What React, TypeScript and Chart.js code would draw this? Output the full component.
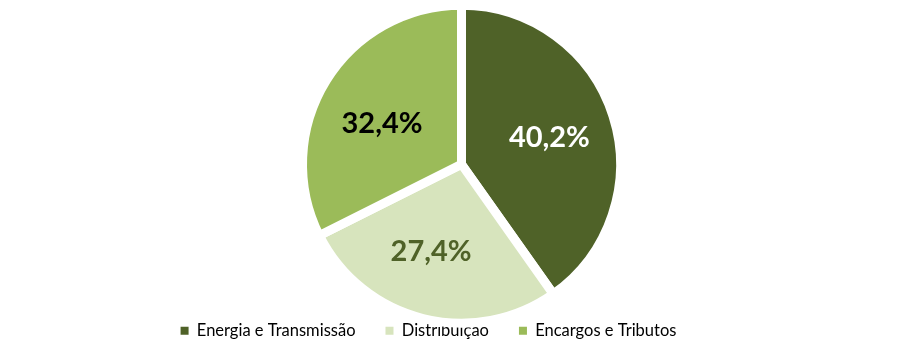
import React, { useEffect, useRef } from "react";
import { Chart, registerables } from "chart.js";

Chart.register(...registerables);

const categories = ["Energia e Transmissão", "Distribuição", "Encargos e Tributos"];
const values = [40.2, 27.4, 32.4];
const valueLabels = ["40,2%", "27,4%", "32,4%"];
const colors = ["#4F6228", "#D7E4BD", "#9BBB59"];
const labelColors = ["#FFFFFF", "#4F6228", "#000000"];
const labelNudge = [[0, 1], [-8, -2], [-1, 8]];

const sliceLabels = {
  id: "sliceLabels",
  afterDatasetsDraw(chart: any) {
    const ctx = chart.ctx;
    const meta = chart.getDatasetMeta(0);
    ctx.save();
    ctx.font = "bold 29px Lato";
    ctx.textAlign = "center";
    ctx.textBaseline = "middle";
    meta.data.forEach((arc: any, i: number) => {
      const p = arc.getProps(["x", "y", "startAngle", "endAngle", "outerRadius"], true);
      const mid = (p.startAngle + p.endAngle) / 2;
      const r = p.outerRadius * 0.58;
      ctx.fillStyle = labelColors[i];
      ctx.fillText(
        valueLabels[i],
        p.x + Math.cos(mid) * r + labelNudge[i][0],
        p.y + Math.sin(mid) * r + labelNudge[i][1]
      );
    });
    ctx.restore();
  },
};

const legendShift = {
  id: "legendShift",
  afterLayout(chart: any) {
    const lg = chart.legend;
    if (lg) {
      lg.left -= 33;
      lg.right -= 33;
    }
  },
};

export default function App() {
  const ref = useRef<HTMLCanvasElement>(null);
  useEffect(() => {
    document.body.style.margin = "0";
    const chart = new Chart(ref.current!, {
      type: "pie",
      data: {
        labels: categories,
        datasets: [
          {
            data: values,
            backgroundColor: colors,
            borderColor: "#FFFFFF",
            borderWidth: 9,
            radius: 159,
          },
        ],
      },
      options: {
        responsive: false,
        animation: false,
        layout: { padding: { top: 36, bottom: 12, left: 0, right: 0 } },
        plugins: {
          tooltip: { enabled: false },
          legend: {
            position: "bottom",
            labels: {
              boxWidth: 8,
              boxHeight: 8,
              padding: 30,
              color: "#000000",
              font: { family: "Lato", size: 16.5 },
              generateLabels() {
                return categories.map((c, i) => ({
                  text: c,
                  fillStyle: colors[i],
                  strokeStyle: colors[i],
                  lineWidth: 0,
                  hidden: false,
                  index: i,
                  fontColor: "#000000",
                }));
              },
            },
          },
        },
      },
      plugins: [sliceLabels, legendShift],
    });
    return () => chart.destroy();
  }, []);
  return (
    <div style={{ width: 923, height: 361 }}>
      <canvas ref={ref} width={923} height={361} />
    </div>
  );
}
